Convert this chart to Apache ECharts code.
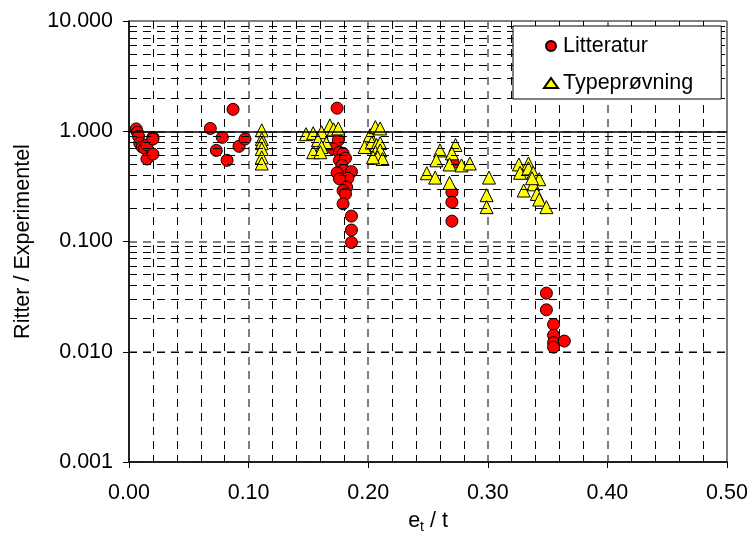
<!DOCTYPE html>
<html>
<head>
<meta charset="utf-8">
<script src="https://cdn.jsdelivr.net/npm/echarts@6/dist/echarts.min.js"></script>
<style>
  html, body { margin: 0; padding: 0; background: #fff; }
  #chart { width: 754px; height: 538px; }
</style>
</head>
<body>
<div id="chart"></div>
<script>
// Litteratur (red circles)
const litX = [0.006, 0.007, 0.008, 0.009, 0.011, 0.013, 0.015, 0.020, 0.020, 0.015, 0.020,
  0.068, 0.078, 0.073, 0.082, 0.087, 0.092, 0.097,
  0.174, 0.175, 0.171, 0.176, 0.179, 0.176, 0.181, 0.178, 0.179, 0.186, 0.183, 0.174,
  0.176, 0.182, 0.179, 0.181, 0.179, 0.186, 0.186, 0.186,
  0.271, 0.270, 0.270, 0.270,
  0.349, 0.349, 0.355, 0.355, 0.355, 0.355, 0.364];
const litY = [1.05, 0.98, 0.90, 0.78, 0.72, 0.70, 0.75, 0.88, 0.85, 0.56, 0.62,
  1.06, 0.88, 0.67, 0.545, 1.58, 0.73, 0.85,
  1.62, 0.83, 0.69, 0.645, 0.63, 0.545, 0.57, 0.49, 0.44, 0.43, 0.375, 0.42,
  0.37, 0.31, 0.29, 0.27, 0.22, 0.17, 0.127, 0.098,
  0.52, 0.28, 0.227, 0.153,
  0.034, 0.024, 0.0177, 0.0141, 0.0121, 0.0110, 0.0125];

// Typeprøvning (yellow triangles)
const typX = [0.111, 0.111, 0.111, 0.111, 0.111, 0.111,
  0.148, 0.154, 0.161, 0.168, 0.171, 0.175, 0.158, 0.165, 0.161, 0.154, 0.160,
  0.2015, 0.206, 0.210, 0.197, 0.203, 0.207, 0.210, 0.206, 0.210, 0.208, 0.212, 0.204,
  0.260, 0.273, 0.270, 0.257, 0.268, 0.278, 0.285, 0.249, 0.256, 0.268, 0.301, 0.299, 0.299,
  0.326, 0.334, 0.327, 0.334, 0.338, 0.343, 0.338, 0.330, 0.341, 0.343, 0.349, 0.337];
const typY = [1.02, 0.85, 0.78, 0.69, 0.58, 0.51,
  0.94, 0.96, 0.98, 1.13, 1.04, 1.06, 0.83, 0.78, 0.72, 0.645, 0.645,
  0.92, 1.09, 1.06, 0.72, 0.79, 0.75, 0.78, 0.645, 0.67, 0.58, 0.56, 0.58,
  0.67, 0.75, 0.63, 0.545, 0.50, 0.49, 0.51, 0.416, 0.38, 0.34, 0.38, 0.263, 0.205,
  0.50, 0.51, 0.42, 0.46, 0.42, 0.367, 0.33, 0.29, 0.27, 0.24, 0.205, 0.375];

// minor log grid values (2..9 in each decade)
const minorY = [];
[0.001, 0.01, 0.1, 1].forEach(d => {
  for (let k = 2; k <= 9; k++) minorY.push(+(d * k).toPrecision(3));
});

const FONT = 'Liberation Sans, Arial, sans-serif';
const FS = 21.5;
const majorLine = { color: '#808080', width: 2, type: [8, 6] };
const minorLine = { color: '#000', width: 1, type: [8, 6] };

const chart = echarts.init(document.getElementById('chart'));
chart.setOption({
  animation: false,
  textStyle: { fontFamily: FONT },
  grid: {
    left: 129, right: 27, top: 21, bottom: 76, outerBoundsMode: 'none', containLabel: false,
    show: true, borderColor: '#000', borderWidth: 1
  },
  legend: {
    orient: 'vertical',
    left: 513, top: 26,
    z: 20,
    padding: [9, 28, 5, 30],
    itemGap: 15,
    itemWidth: 14, itemHeight: 10,
    backgroundColor: '#fff',
    borderColor: '#000', borderWidth: 1,
    textStyle: { fontSize: FS, color: '#000', fontFamily: FONT },
    data: [{ name: 'Litteratur', icon: 'circle' }, { name: 'Typeprøvning', icon: 'triangle' }]
  },
  xAxis: {
    type: 'value', min: 0, max: 0.5, interval: 0.1,
    name: '{a|e}{b|t}{a| / t}', nameLocation: 'middle', nameGap: 46,
    nameTextStyle: { rich: { a: { fontSize: FS, color: '#000', fontFamily: FONT }, b: { fontSize: 14, color: '#000', fontFamily: FONT, padding: [12, 0, 0, 0] } } },
    axisLine: { lineStyle: { color: '#000', width: 1.5 } },
    axisTick: { show: true, length: 6, lineStyle: { color: '#000' } },
    axisLabel: { fontSize: FS, color: '#000', margin: 20, formatter: v => v.toFixed(2) },
    splitLine: { show: true, lineStyle: majorLine },
    minorTick: { show: false, splitNumber: 5 },
    minorSplitLine: { show: true, lineStyle: minorLine }
  },
  yAxis: {
    type: 'log', logBase: 10, min: 0.001, max: 10,
    name: 'Ritter / Experimentel', nameLocation: 'middle', nameGap: 95,
    nameTextStyle: { fontSize: FS, color: '#000', fontFamily: FONT },
    axisLine: { show: true, lineStyle: { color: '#000', width: 1.5 } },
    axisTick: { show: true, length: 6, lineStyle: { color: '#000' } },
    axisLabel: { fontSize: FS, color: '#000', margin: 16, formatter: v => Number(v).toFixed(3) },
    splitLine: { show: true, lineStyle: majorLine }
  },
  series: [
    {
      name: 'Litteratur', type: 'scatter', symbol: 'circle', symbolSize: 12,
      itemStyle: { color: '#ff0000', borderColor: '#000', borderWidth: 1, opacity: 1 },
      data: litX.map((x, i) => [x, litY[i]]),
      markLine: {
        silent: true, symbol: 'none', label: { show: false }, animation: false,
        lineStyle: minorLine,
        data: minorY.map(v => ({ yAxis: v })).concat([
          { yAxis: 1, lineStyle: { color: '#000', width: 1.5, type: 'solid' } }
        ])
      },
      z: 3
    },
    {
      name: 'Typeprøvning', type: 'scatter', symbol: 'triangle', symbolSize: 13,
      itemStyle: { color: '#ffff00', borderColor: '#000', borderWidth: 1, opacity: 1 },
      data: typX.map((x, i) => [x, typY[i]]),
      z: 4
    }
  ]
});
</script>
</body>
</html>
